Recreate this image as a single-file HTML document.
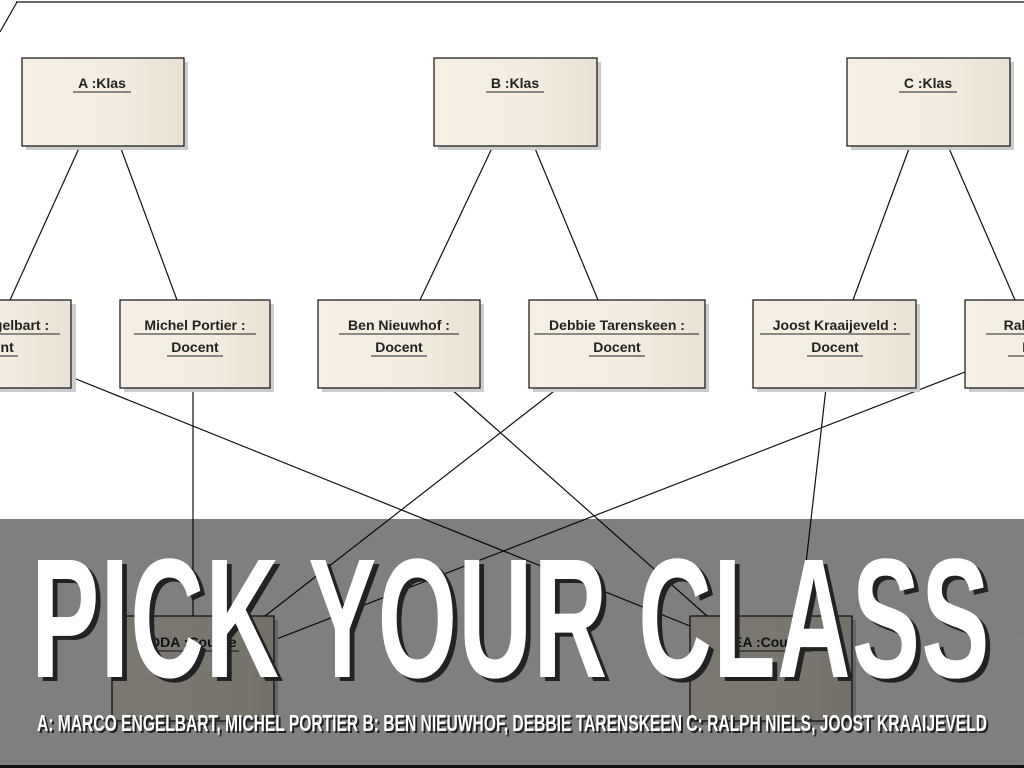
<!DOCTYPE html>
<html><head><meta charset="utf-8"><style>
html,body{margin:0;padding:0;background:#fff;}
svg{display:block;}
</style></head><body>
<svg width="1024" height="768" viewBox="0 0 1024 768" xmlns="http://www.w3.org/2000/svg">
<defs>
<linearGradient id="g" x1="0" x2="1" y1="0" y2="0">
<stop offset="0" stop-color="#f6efe3"/><stop offset="0.6" stop-color="#f3ece0"/><stop offset="1" stop-color="#e9e1d3"/>
</linearGradient>
</defs>
<rect width="1024" height="768" fill="#fff"/>
<g stroke="#111" stroke-width="1.2">
<line x1="16" y1="2" x2="1024" y2="2"/>
<line x1="17" y1="2" x2="0" y2="32"/>
<line x1="80" y1="146" x2="10" y2="300"/>
<line x1="120" y1="146" x2="177" y2="300"/>
<line x1="493" y1="146" x2="420" y2="300"/>
<line x1="534" y1="146" x2="598" y2="300"/>
<line x1="910" y1="146" x2="853" y2="300"/>
<line x1="948" y1="146" x2="1015" y2="300"/>
<line x1="71" y1="377" x2="690" y2="626"/>
<line x1="193" y1="388" x2="193" y2="616"/>
<line x1="450" y1="388" x2="707" y2="616"/>
<line x1="558" y1="388" x2="265" y2="616"/>
<line x1="826" y1="388" x2="800" y2="616"/>
<line x1="965" y1="372" x2="274" y2="640"/>
</g>
<g font-family="Liberation Sans, sans-serif" font-weight="bold" font-size="14" fill="#222" text-anchor="middle">
<g>
<rect x="26" y="62" width="162" height="88" fill="#ccc"/>
<rect x="22" y="58" width="162" height="88" fill="url(#g)" stroke="#111" stroke-width="1.2"/>
<text x="102" y="88">A :Klas</text><line x1="73" y1="92" x2="131" y2="92" stroke="#222"/>
</g>
<g>
<rect x="438" y="62" width="163" height="88" fill="#ccc"/>
<rect x="434" y="58" width="163" height="88" fill="url(#g)" stroke="#111" stroke-width="1.2"/>
<text x="515" y="88">B :Klas</text><line x1="486" y1="92" x2="544" y2="92" stroke="#222"/>
</g>
<g>
<rect x="851" y="62" width="163" height="88" fill="#ccc"/>
<rect x="847" y="58" width="163" height="88" fill="url(#g)" stroke="#111" stroke-width="1.2"/>
<text x="928" y="88">C :Klas</text><line x1="899" y1="92" x2="957" y2="92" stroke="#222"/>
</g>
<rect x="-86" y="304" width="162" height="88" fill="#ccc"/>
<rect x="-90" y="300" width="161" height="88" fill="url(#g)" stroke="#111" stroke-width="1.2"/>
<text x="-10" y="330">Marco Engelbart :</text><text x="-10" y="352">Docent</text>
<line x1="-80" y1="334" x2="60" y2="334" stroke="#222"/><line x1="-38" y1="356" x2="18" y2="356" stroke="#222"/>

<rect x="124" y="304" width="150" height="88" fill="#ccc"/>
<rect x="120" y="300" width="150" height="88" fill="url(#g)" stroke="#111" stroke-width="1.2"/>
<text x="195" y="330">Michel Portier :</text><text x="195" y="352">Docent</text>
<line x1="134" y1="334" x2="256" y2="334" stroke="#222"/><line x1="167" y1="356" x2="223" y2="356" stroke="#222"/>

<rect x="322" y="304" width="162" height="88" fill="#ccc"/>
<rect x="318" y="300" width="162" height="88" fill="url(#g)" stroke="#111" stroke-width="1.2"/>
<text x="399" y="330">Ben Nieuwhof :</text><text x="399" y="352">Docent</text>
<line x1="339" y1="334" x2="459" y2="334" stroke="#222"/><line x1="371" y1="356" x2="427" y2="356" stroke="#222"/>

<rect x="533" y="304" width="176" height="88" fill="#ccc"/>
<rect x="529" y="300" width="176" height="88" fill="url(#g)" stroke="#111" stroke-width="1.2"/>
<text x="617" y="330">Debbie Tarenskeen :</text><text x="617" y="352">Docent</text>
<line x1="534" y1="334" x2="699" y2="334" stroke="#222"/><line x1="589" y1="356" x2="645" y2="356" stroke="#222"/>

<rect x="757" y="304" width="163" height="88" fill="#ccc"/>
<rect x="753" y="300" width="163" height="88" fill="url(#g)" stroke="#111" stroke-width="1.2"/>
<text x="835" y="330">Joost Kraaijeveld :</text><text x="835" y="352">Docent</text>
<line x1="760" y1="334" x2="910" y2="334" stroke="#222"/><line x1="807" y1="356" x2="863" y2="356" stroke="#222"/>

<rect x="969" y="304" width="162" height="88" fill="#ccc"/>
<rect x="965" y="300" width="162" height="88" fill="url(#g)" stroke="#111" stroke-width="1.2"/>
<text x="1046" y="330">Ralph Niels :</text><text x="1046" y="352">Docent</text>
<line x1="986" y1="334" x2="1106" y2="334" stroke="#222"/><line x1="1008" y1="356" x2="1064" y2="356" stroke="#222"/>

<rect x="116" y="620" width="162" height="105" fill="#ccc"/>
<rect x="112" y="616" width="162" height="105" fill="url(#g)" stroke="#111" stroke-width="1.2"/>
<text x="193" y="647">ODA :Course</text><line x1="147" y1="651" x2="239" y2="651" stroke="#222"/>
<rect x="694" y="620" width="162" height="105" fill="#ccc"/>
<rect x="690" y="616" width="162" height="105" fill="url(#g)" stroke="#111" stroke-width="1.2"/>
<text x="771" y="647">EA :Course</text><line x1="730" y1="651" x2="812" y2="651" stroke="#222"/>
</g>
<rect x="0" y="519" width="1024" height="246" fill="#000" fill-opacity="0.5"/>
<rect x="0" y="765" width="1024" height="3" fill="#111"/>
<g font-family="Liberation Sans, sans-serif" font-size="170" font-weight="bold" transform="scale(0.6,1)">
<text x="60" y="681" textLength="1597" lengthAdjust="spacing" fill="#222">PICK YOUR CLASS</text>
<text x="52" y="677" textLength="1597" lengthAdjust="spacing" fill="#fff">PICK YOUR CLASS</text>
</g>
<g font-family="Liberation Sans, sans-serif" font-size="23" font-weight="bold">
<text x="39" y="733" textLength="950" lengthAdjust="spacingAndGlyphs" fill="#222">A: MARCO ENGELBART, MICHEL PORTIER B: BEN NIEUWHOF, DEBBIE TARENSKEEN C: RALPH NIELS, JOOST KRAAIJEVELD</text>
<text x="37" y="731" textLength="950" lengthAdjust="spacingAndGlyphs" fill="#fff">A: MARCO ENGELBART, MICHEL PORTIER B: BEN NIEUWHOF, DEBBIE TARENSKEEN C: RALPH NIELS, JOOST KRAAIJEVELD</text>
</g>
</svg>
</body></html>
